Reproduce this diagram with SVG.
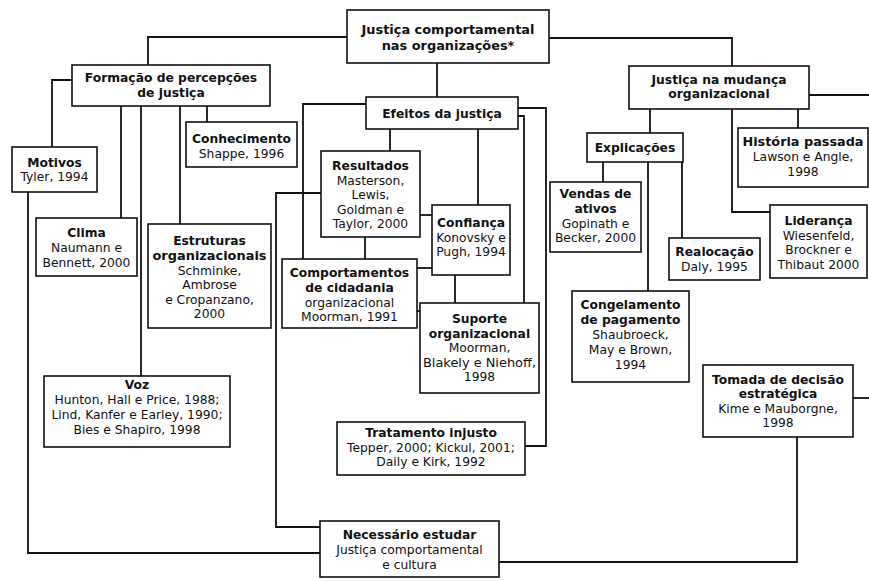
<svg xmlns="http://www.w3.org/2000/svg" width="869" height="581" viewBox="0 0 869 581">
<style>
.b{fill:#fff;stroke:#111;stroke-width:1.6}
.c{fill:none;stroke:#111;stroke-width:1.8}
text{font-family:"DejaVu Sans","Open Sans",sans-serif;font-size:12.3px;fill:#111;text-anchor:middle}
.t{font-weight:bold}
.big{font-size:12.9px}
</style>
<rect width="869" height="581" fill="#fff"/>
<g id="connectors">
<path class="c" d="M347,37H148V65"/>
<path class="c" d="M437,63V97"/>
<path class="c" d="M549,38H732V66"/>
<path class="c" d="M809,95H869"/>
<path class="c" d="M853,398H869"/>
<path class="c" d="M72,80H52V147"/>
<path class="c" d="M28,192V553H320"/>
<path class="c" d="M121,106V218"/>
<path class="c" d="M141,106V376"/>
<path class="c" d="M180,106V224"/>
<path class="c" d="M207,106V122"/>
<path class="c" d="M366,104H303V259"/>
<path class="c" d="M321,193H276V527H320"/>
<path class="c" d="M390,129V151"/>
<path class="c" d="M478,129V205"/>
<path class="c" d="M420,215H432"/>
<path class="c" d="M365,237V259"/>
<path class="c" d="M417,268H432"/>
<path class="c" d="M455,275V303"/>
<path class="c" d="M417,311H420"/>
<path class="c" d="M518,116H524V303"/>
<path class="c" d="M518,108H546V446H525"/>
<path class="c" d="M499,562H797V437"/>
<path class="c" d="M650,109V133"/>
<path class="c" d="M732,109V212H770"/>
<path class="c" d="M798,109V128"/>
<path class="c" d="M603,162V182"/>
<path class="c" d="M648,162V291"/>
<path class="c" d="M682,162V238"/>
</g>
<g id="n-top"><rect class="b" x="347" y="10" width="202" height="53"/>
<text class="t big"><tspan x="448" y="33.5">Justiça comportamental</tspan><tspan x="448" y="49.5">nas organizações*</tspan></text></g>
<g id="n-formacao"><rect class="b" x="72" y="65" width="198" height="41"/>
<text class="t"><tspan x="171" y="82">Formação de percepções</tspan><tspan x="171" y="96.5">de justiça</tspan></text></g>
<g id="n-efeitos"><rect class="b" x="366" y="97" width="152" height="32"/>
<text class="t" x="442" y="117.5">Efeitos da justiça</text></g>
<g id="n-mudanca"><rect class="b" x="629" y="66" width="180" height="43"/>
<text class="t"><tspan x="719" y="83.5">Justiça na mudança</tspan><tspan x="719" y="98">organizacional</tspan></text></g>
<g id="n-motivos"><rect class="b" x="12" y="147" width="85" height="45"/>
<text><tspan class="t" x="54.5" y="166.5">Motivos</tspan><tspan x="54.5" y="181">Tyler, 1994</tspan></text></g>
<g id="n-conhecimento"><rect class="b" x="186" y="122" width="111" height="45"/>
<text><tspan class="t" x="241.5" y="142.5">Conhecimento</tspan><tspan x="241.5" y="157.5">Shappe, 1996</tspan></text></g>
<g id="n-clima"><rect class="b" x="36" y="218" width="101" height="58"/>
<text><tspan class="t" x="86.5" y="237">Clima</tspan><tspan x="86.5" y="252">Naumann e</tspan><tspan x="86.5" y="267">Bennett, 2000</tspan></text></g>
<g id="n-estruturas"><rect class="b" x="148" y="224" width="123" height="104"/>
<text><tspan class="t" x="209.5" y="245">Estruturas</tspan><tspan class="t" x="209.5" y="260" textLength="114" lengthAdjust="spacingAndGlyphs">organizacionais</tspan><tspan x="209.5" y="274.5">Schminke,</tspan><tspan x="209.5" y="289">Ambrose</tspan><tspan x="209.5" y="303.5">e Cropanzano,</tspan><tspan x="209.5" y="318">2000</tspan></text></g>
<g id="n-voz"><rect class="b" x="44" y="376" width="186" height="71"/>
<text><tspan class="t" x="137" y="389">Voz</tspan><tspan x="137" y="404">Hunton, Hall e Price, 1988;</tspan><tspan x="137" y="419">Lind, Kanfer e Earley, 1990;</tspan><tspan x="137" y="434">Bies e Shapiro, 1998</tspan></text></g>
<g id="n-resultados"><rect class="b" x="321" y="151" width="99" height="86"/>
<text><tspan class="t" x="370.5" y="170">Resultados</tspan><tspan x="370.5" y="184.5">Masterson,</tspan><tspan x="370.5" y="199">Lewis,</tspan><tspan x="370.5" y="213.5">Goldman e</tspan><tspan x="370.5" y="228">Taylor, 2000</tspan></text></g>
<g id="n-confianca"><rect class="b" x="432" y="205" width="78" height="70"/>
<text><tspan class="t" x="471" y="227">Confiança</tspan><tspan x="471" y="241.5">Konovsky e</tspan><tspan x="471" y="256">Pugh, 1994</tspan></text></g>
<g id="n-comportamentos"><rect class="b" x="282" y="259" width="135" height="69"/>
<text><tspan class="t" x="349.5" y="277">Comportamentos</tspan><tspan class="t" x="349.5" y="292">de cidadania</tspan><tspan x="349.5" y="306.5">organizacional</tspan><tspan x="349.5" y="321">Moorman, 1991</tspan></text></g>
<g id="n-suporte"><rect class="b" x="420" y="303" width="119" height="90"/>
<text><tspan class="t" x="479.5" y="323">Suporte</tspan><tspan class="t" x="479.5" y="337.5">organizacional</tspan><tspan x="479.5" y="352">Moorman,</tspan><tspan x="479.5" y="366.5" textLength="113" lengthAdjust="spacingAndGlyphs">Blakely e Niehoff,</tspan><tspan x="479.5" y="381">1998</tspan></text></g>
<g id="n-tratamento"><rect class="b" x="337" y="422" width="188" height="53"/>
<text><tspan class="t" x="431" y="437">Tratamento injusto</tspan><tspan x="431" y="451.5">Tepper, 2000; Kickul, 2001;</tspan><tspan x="431" y="466">Daily e Kirk, 1992</tspan></text></g>
<g id="n-necessario"><rect class="b" x="320" y="521" width="179" height="56"/>
<text><tspan class="t" x="409.5" y="539">Necessário estudar</tspan><tspan x="409.5" y="554">Justiça comportamental</tspan><tspan x="409.5" y="569">e cultura</tspan></text></g>
<g id="n-explicacoes"><rect class="b" x="587" y="133" width="96" height="29"/>
<text class="t" x="635" y="152">Explicações</text></g>
<g id="n-historia"><rect class="b" x="738" y="128" width="130" height="59"/>
<text><tspan class="t" x="803" y="146" textLength="121" lengthAdjust="spacingAndGlyphs">História passada</tspan><tspan x="803" y="161">Lawson e Angle,</tspan><tspan x="803" y="176">1998</tspan></text></g>
<g id="n-vendas"><rect class="b" x="550" y="182" width="91" height="70"/>
<text><tspan class="t" x="595.5" y="198">Vendas de</tspan><tspan class="t" x="595.5" y="213">ativos</tspan><tspan x="595.5" y="227.5">Gopinath e</tspan><tspan x="595.5" y="242">Becker, 2000</tspan></text></g>
<g id="n-lideranca"><rect class="b" x="770" y="205" width="97" height="73"/>
<text><tspan class="t" x="818.5" y="225">Liderança</tspan><tspan x="818.5" y="239.5">Wiesenfeld,</tspan><tspan x="818.5" y="254">Brockner e</tspan><tspan x="818.5" y="268.5">Thibaut 2000</tspan></text></g>
<g id="n-realocacao"><rect class="b" x="669" y="238" width="91" height="42"/>
<text><tspan class="t" x="714.5" y="256">Realocação</tspan><tspan x="714.5" y="271">Daly, 1995</tspan></text></g>
<g id="n-congelamento"><rect class="b" x="572" y="291" width="117" height="91"/>
<text><tspan class="t" x="630.5" y="309">Congelamento</tspan><tspan class="t" x="630.5" y="324">de pagamento</tspan><tspan x="630.5" y="339">Shaubroeck,</tspan><tspan x="630.5" y="353.5">May e Brown,</tspan><tspan x="630.5" y="368.5">1994</tspan></text></g>
<g id="n-tomada"><rect class="b" x="703" y="365" width="150" height="72"/>
<text><tspan class="t" x="778" y="383.5">Tomada de decisão</tspan><tspan class="t" x="778" y="398">estratégica</tspan><tspan x="778" y="412.5">Kime e Mauborgne,</tspan><tspan x="778" y="427">1998</tspan></text></g>
</svg>
